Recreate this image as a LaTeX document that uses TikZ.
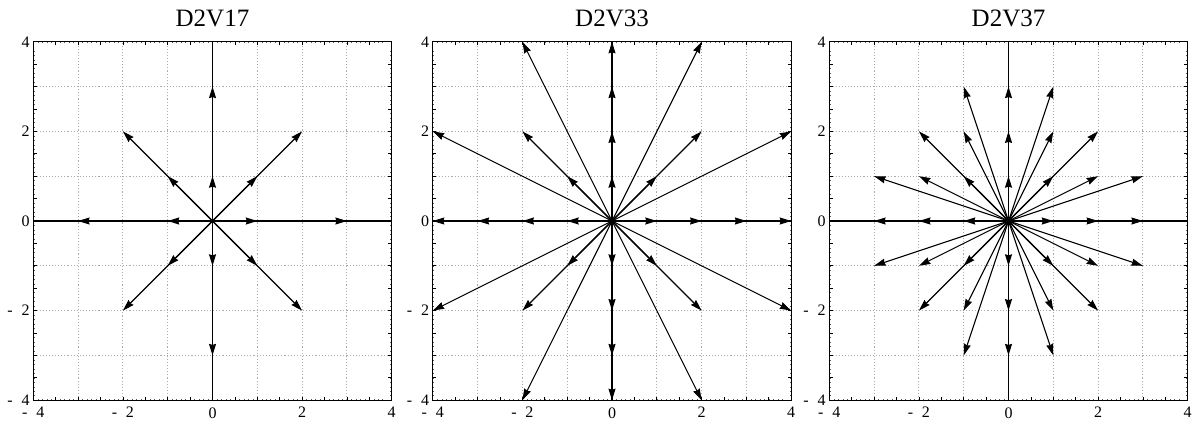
\documentclass[tikz,border=0pt]{standalone}
\usepackage{fontspec}
\setmainfont{Liberation Serif}
\usetikzlibrary{arrows.meta}
\tikzset{
  gridline/.style={gray!65, line width=0.9pt, dash pattern=on 1.1pt off 2pt},
  frameline/.style={line width=1.2pt},
  axisline/.style={line width=1.6pt},
  tickline/.style={line width=0.7pt},
  minortick/.style={line width=0.45pt, gray!70!black},
  vec/.style={line width=1.1pt, -{Stealth[length=11.5pt,width=7pt,inset=1pt]}},
  ticklbl/.style={font=\fontsize{16}{16}\selectfont, inner sep=0pt},
  ttl/.style={font=\fontsize{25}{25}\selectfont, inner sep=0pt}
}
\newcommand\mneg[1]{-\hspace{0.55em}#1}
\newcommand\drawpanel[4]{%
\begin{scope}[shift={(#1,-221)}, x=44.8pt, y=44.8pt]
  \coordinate (O#2) at (0,0);
  \foreach \i in {-3,...,3} {
    \draw[gridline] (\i,-4) -- (\i,4);
    \draw[gridline] (-4,\i) -- (4,\i);
  }
  \foreach \t in {-3.9,-3.8,...,3.85} {
    \draw[minortick] (\t,-4) -- ++(0,1.6pt);
    \draw[minortick] (\t,4) -- ++(0,-1.6pt);
    \draw[minortick] (-4,\t) -- ++(1.6pt,0);
    \draw[minortick] (4,\t) -- ++(-1.6pt,0);
  }
  \foreach \t in {-3.5,-3,...,3.5} {
    \draw[tickline] (\t,-4) -- ++(0,3.5pt);
    \draw[tickline] (\t,4) -- ++(0,-3.5pt);
    \draw[tickline] (-4,\t) -- ++(3.5pt,0);
    \draw[tickline] (4,\t) -- ++(-3.5pt,0);
  }
  \draw[frameline] (-4,-4) rectangle (4,4);
  \draw[axisline] (-4,0) -- (4,0);
  \draw[axisline] (0,-4) -- (0,4);
  \foreach \a/\b in {#4} { \draw[vec] (O#2) -- (\a,\b); }
  \foreach \v/\s in {4/4,2/2,0/0,-2/\mneg{2},-4/\mneg{4}} {
    \node[ticklbl, anchor=east] (yl#2\v) at ([xshift=-3.5pt]-4,\v) {\s};
    \node[ticklbl, anchor=north] (xl#2\v) at ([yshift=-7pt]\v,-4) {\s};
  }
  \node[ttl, anchor=base] (title#2) at ([yshift=15pt]0,4) {#3};
\end{scope}}
\begin{document}
\begin{tikzpicture}[x=1pt,y=1pt]
\useasboundingbox (0,0) rectangle (1193,-425);
\drawpanel{212.5}{a}{D2V17}{1/0,-1/0,0/1,0/-1,3/0,-3/0,0/3,0/-3,1/1,-1/1,1/-1,-1/-1,2/2,-2/2,2/-2,-2/-2}
\drawpanel{612}{b}{D2V33}{1/0,2/0,3/0,4/0,-1/0,-2/0,-3/0,-4/0,0/1,0/2,0/3,0/4,0/-1,0/-2,0/-3,0/-4,1/1,2/2,-1/1,-2/2,1/-1,2/-2,-1/-1,-2/-2,4/2,-4/2,4/-2,-4/-2,2/4,-2/4,2/-4,-2/-4}
\drawpanel{1008.5}{c}{D2V37}{1/0,2/0,3/0,-1/0,-2/0,-3/0,0/1,0/2,0/3,0/-1,0/-2,0/-3,1/1,2/2,-1/1,-2/2,1/-1,2/-2,-1/-1,-2/-2,1/2,-1/2,1/-2,-1/-2,2/1,-2/1,2/-1,-2/-1,1/3,-1/3,1/-3,-1/-3,3/1,-3/1,3/-1,-3/-1}
\end{tikzpicture}
\end{document}
